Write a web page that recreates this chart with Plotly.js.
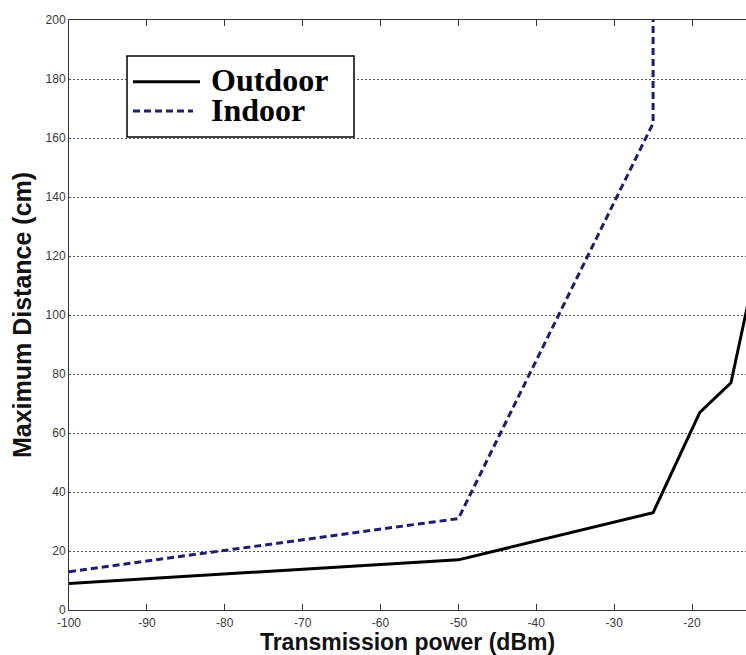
<!DOCTYPE html>
<html>
<head>
<meta charset="utf-8">
<script src="https://cdn.plot.ly/plotly-3.0.1.min.js"></script>
<style>html,body{margin:0;padding:0;background:#fff;overflow:hidden;}</style>
</head>
<body>
<div id="chart" style="width:746px;height:655px;"></div>
<script>
// Data
var outdoorPower = [-100, -50, -25, -19, -15, -12];
var outdoorDistance = [9, 17, 33, 67, 77, 114];
var indoorPower = [-100, -50, -25, -25];
var indoorDistance = [13, 31, 165, 200];
var seriesNames = ['Outdoor', 'Indoor'];
var xTickValues = [-100, -90, -80, -70, -60, -50, -40, -30, -20];
var xTickLabels = ['-100', '-90', '-80', '-70', '-60', '-50', '-40', '-30', '-20'];
var yTickValues = [0, 20, 40, 60, 80, 100, 120, 140, 160, 180, 200];
var yTickLabels = ['0', '20', '40', '60', '80', '100', '120', '140', '160', '180', '200'];

var W = 746, H = 655;
var L = 69, T = 20, B = 45, R = 0;
var pw = W - L - R, ph = H - T - B;
function px(x) { return (x - L) / pw; }
function py(y) { return (H - B - y) / ph; }

var tickFont = {family: 'Liberation Sans Narrow, Arial Narrow, Liberation Sans, sans-serif', size: 12, color: '#3a3a3a'};
var titleFont = {family: 'Liberation Sans, Arial, sans-serif', color: '#111', weight: 'bold'};
var legendFont = {family: 'Liberation Serif, Times New Roman, serif', size: 32, color: '#000', weight: 'bold'};

var traces = [
  {
    x: outdoorPower, y: outdoorDistance, name: seriesNames[0],
    type: 'scatter', mode: 'lines',
    line: {color: '#000000', width: 3}
  },
  {
    x: indoorPower, y: indoorDistance, name: seriesNames[1],
    type: 'scatter', mode: 'lines',
    line: {color: '#1c1f6b', width: 3, dash: '7px,4px'}
  }
];

var layout = {
  width: W, height: H,
  margin: {l: L, r: R, t: T, b: B, pad: 0},
  paper_bgcolor: '#ffffff',
  plot_bgcolor: '#ffffff',
  showlegend: false,
  xaxis: {
    range: [-100, -13.07],
    tickvals: xTickValues, ticktext: xTickLabels,
    ticks: 'inside', ticklen: 6, tickcolor: '#333', tickwidth: 1,
    showline: true, linecolor: '#333', linewidth: 1,
    mirror: 'allticks',
    showgrid: false, zeroline: false,
    tickfont: tickFont, ticklabelstandoff: 2,
    title: {text: 'Transmission power (dBm)', standoff: 6,
            font: Object.assign({size: 23}, titleFont)}
  },
  yaxis: {
    range: [0, 200],
    tickvals: yTickValues, ticktext: yTickLabels,
    ticks: '',
    showline: true, linecolor: '#333', linewidth: 1,
    showgrid: true, gridcolor: '#555', gridwidth: 1, griddash: '2px,2px',
    zeroline: false,
    tickfont: tickFont,
    title: {text: 'Maximum Distance (cm)', standoff: 6,
            font: Object.assign({size: 25}, titleFont)}
  },
  shapes: [
    {type: 'rect', xref: 'paper', yref: 'paper',
     x0: px(127), x1: px(354), y0: py(56), y1: py(137),
     line: {color: '#000', width: 1.5}, fillcolor: '#ffffff', layer: 'above'},
    {type: 'line', xref: 'paper', yref: 'paper',
     x0: px(133), x1: px(200), y0: py(81.7), y1: py(81.7),
     line: {color: '#000', width: 3}, layer: 'above'},
    {type: 'line', xref: 'paper', yref: 'paper',
     x0: px(133), x1: px(193), y0: py(111), y1: py(111),
     line: {color: '#1c1f6b', width: 3, dash: '7px,4px'}, layer: 'above'}
  ],
  annotations: [
    {xref: 'paper', yref: 'paper', x: px(209), y: py(80), xanchor: 'left', yanchor: 'middle',
     text: seriesNames[0], showarrow: false, font: legendFont},
    {xref: 'paper', yref: 'paper', x: px(209), y: py(110), xanchor: 'left', yanchor: 'middle',
     text: seriesNames[1], showarrow: false, font: legendFont}
  ]
};

Plotly.newPlot('chart', traces, layout, {displayModeBar: false, staticPlot: true});
</script>
</body>
</html>
